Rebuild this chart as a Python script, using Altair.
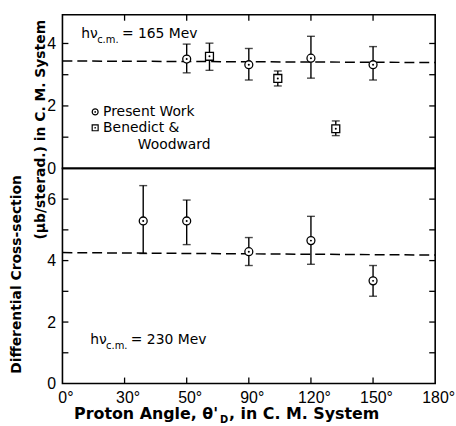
import altair as alt
import pandas as pd

# ---- data: 165 MeV panel ----
pw165_angle = [60, 90, 120, 150]
pw165_val = [3.50, 3.32, 3.53, 3.32]
pw165_lo = [3.06, 2.83, 2.89, 2.83]
pw165_hi = [3.98, 3.84, 4.23, 3.90]

bw_angle = [71, 104, 132]
bw_val = [3.59, 2.88, 1.27]
bw_lo = [3.14, 2.64, 1.05]
bw_hi = [4.01, 3.12, 1.52]

fit165_angle = [0, 180]
fit165_val = [3.44, 3.39]

# ---- data: 230 MeV panel ----
pw230_angle = [39, 60, 90, 120, 150]
pw230_val = [5.29, 5.29, 4.29, 4.65, 3.34]
pw230_lo = [4.23, 4.52, 3.84, 3.88, 2.84]
pw230_hi = [6.44, 5.97, 4.75, 5.44, 3.84]

fit230_angle = [0, 180]
fit230_val = [4.26, 4.18]

# ---- axes ----
x_ticks = [0, 30, 60, 90, 120, 150, 180]
x_tick_labels = ["0°", "30°", "50°", "90°", "120°", "150°", "180°"]
x_inner_ticks = [30, 60, 90, 120, 150]
top_y_labels = [0, 2, 4]
top_y_ticks = [1, 2, 3, 4]
bot_y_labels = [0, 2, 4, 6]
bot_y_ticks = [1, 2, 3, 4, 5, 6]

W = 376
H_TOP = 155
H_BOT = 217
FONT = "DejaVu Sans"
LFONT = "Liberation Sans"
TICK = 6

xscale = alt.Scale(domain=[0, 180], nice=False, zero=False)
ytop = alt.Scale(domain=[0, 4.92], nice=False, zero=False)
ybot = alt.Scale(domain=[0, 7], nice=False, zero=False)

label_expr = "[" + ",".join("'%s'" % s for s in x_tick_labels) + "][indexof([" + \
    ",".join(str(v) for v in x_ticks) + "], datum.value)]"


def yaxis(vals):
    return alt.Axis(values=vals, ticks=False, domain=False, grid=False, title=None,
                    labelFont=LFONT, labelFontSize=16, labelColor="black", labelPadding=7)


class Panel:
    def __init__(self, ys, xaxis, yax, h):
        self.ys = ys
        self.xaxis = xaxis
        self.yax = yax
        self.h = h
        self.layers = []

    def X(self, f):
        return alt.X(f, scale=xscale, axis=self.xaxis)

    def Y(self, f):
        return alt.Y(f, scale=self.ys, axis=self.yax)

    def points(self, a, v, lo, hi, shape):
        base = alt.Chart(pd.DataFrame({"angle": a, "val": v, "lo": lo, "hi": hi}))
        self.layers.append(base.mark_rule(color="black", strokeWidth=1.4).encode(
            x=self.X("angle:Q"), y=self.Y("lo:Q"), y2="hi:Q"))
        for f in ["hi:Q", "lo:Q"]:
            self.layers.append(base.mark_tick(color="black", orient="horizontal", size=8,
                                              thickness=1.4).encode(x=self.X("angle:Q"), y=self.Y(f)))
        self.layers.append(base.mark_point(shape=shape, size=64, fill="white", fillOpacity=1,
                                           stroke="black", strokeWidth=1.3, opacity=1).encode(
            x=self.X("angle:Q"), y=self.Y("val:Q")))
        self.layers.append(base.mark_point(shape="circle", size=4, filled=True, color="black",
                                           opacity=1).encode(x=self.X("angle:Q"), y=self.Y("val:Q")))

    def fit(self, a, v):
        self.layers.append(alt.Chart(pd.DataFrame({"angle": a, "val": v})).mark_line(
            color="black", strokeWidth=1.5, strokeDash=[10, 5]).encode(
            x=self.X("angle:Q"), y=self.Y("val:Q")))

    def ticks(self, xt, yt, top_edge, bottom_edge):
        dy = pd.DataFrame({"v": yt})
        self.layers.append(alt.Chart(dy).mark_rule(color="black", strokeWidth=1.3).encode(
            y=self.Y("v:Q"), x=alt.value(0), x2=alt.value(TICK)))
        self.layers.append(alt.Chart(dy).mark_rule(color="black", strokeWidth=1.3).encode(
            y=self.Y("v:Q"), x=alt.value(W - TICK), x2=alt.value(W)))
        dx = pd.DataFrame({"v": xt})
        if top_edge:
            self.layers.append(alt.Chart(dx).mark_rule(color="black", strokeWidth=1.3).encode(
                x=self.X("v:Q"), y=alt.value(0), y2=alt.value(TICK)))
        if bottom_edge:
            self.layers.append(alt.Chart(dx).mark_rule(color="black", strokeWidth=1.3).encode(
                x=self.X("v:Q"), y=alt.value(self.h - TICK), y2=alt.value(self.h)))

    def text(self, t, x, y, size, weight="normal", align="left", angle=0, baseline="alphabetic",
             font=FONT):
        kw = dict(font=font, fontSize=size, fontWeight=weight, align=align,
                  baseline=baseline, color="black")
        if angle:
            kw["angle"] = angle
        self.layers.append(alt.Chart(pd.DataFrame({"t": [t]})).mark_text(**kw).encode(
            x=alt.value(x), y=alt.value(y), text="t:N"))

    def marker(self, shape, x, y):
        d = pd.DataFrame({"s": [shape]})
        self.layers.append(alt.Chart(d).mark_point(
            shape=shape, size=36, fill="white", fillOpacity=1, stroke="black", strokeWidth=1.2,
            opacity=1).encode(x=alt.value(x), y=alt.value(y)))
        self.layers.append(alt.Chart(d).mark_point(
            shape="circle", size=3, filled=True, color="black", opacity=1).encode(
            x=alt.value(x), y=alt.value(y)))

    def chart(self):
        return alt.layer(*self.layers).properties(width=W, height=self.h)


# ---- top panel ----
top = Panel(ytop, None, yaxis(top_y_labels), H_TOP)
top.fit(fit165_angle, fit165_val)
top.points(pw165_angle, pw165_val, pw165_lo, pw165_hi, "circle")
top.points(bw_angle, bw_val, bw_lo, bw_hi, "square")
top.ticks(x_inner_ticks, top_y_ticks, True, False)
top.text("hν", 19, 23, 14)
top.text("c.m.", 35, 28, 10)
top.text("= 165 Mev", 60, 23, 14)
top.marker("circle", 33, 98)
top.marker("square", 33, 114)
top.text("Present  Work", 41, 102, 14)
top.text("Benedict  &", 41, 118.5, 14)
top.text("Woodward", 76, 135, 14)

# ---- bottom panel ----
bot_xaxis = alt.Axis(values=x_ticks, labelExpr=label_expr, ticks=False, domain=False, grid=False,
                     title=None, labelFont=LFONT, labelFontSize=16, labelColor="black",
                     labelPadding=6, labelFlush=False, labelOffset=3)
bot = Panel(ybot, bot_xaxis, yaxis(bot_y_labels), H_BOT)
bot.fit(fit230_angle, fit230_val)
bot.points(pw230_angle, pw230_val, pw230_lo, pw230_hi, "circle")
bot.ticks(x_inner_ticks, bot_y_ticks, False, True)
bot.text("hν", 28, 177, 14)
bot.text("c.m.", 44, 182, 10)
bot.text("= 230 Mev", 69, 177, 14)
bot.text("Differential  Cross-section", -46, 107, 14, "bold", "center", 270, "middle")
bot.text("(μb/sterad.) in  C. M.  System", -22, -39, 14, "bold", "center", 270, "middle")
bot.text("Proton  Angle,  θ'", 157, 253, 16, "bold", "right")
bot.text("D", 159, 257, 10, "bold")
bot.text(" ,  in  C. M.  System", 168, 253, 16, "bold")

chart = alt.vconcat(top.chart(), bot.chart(), spacing=0, bounds="flush").properties(
    padding={"left": 9, "top": 11, "right": 0, "bottom": 0},
    background="white",
).configure_view(stroke="black", strokeWidth=1.6).configure_concat(spacing=0)

chart.save("out.html", embed_options={"renderer": "svg", "actions": False})
